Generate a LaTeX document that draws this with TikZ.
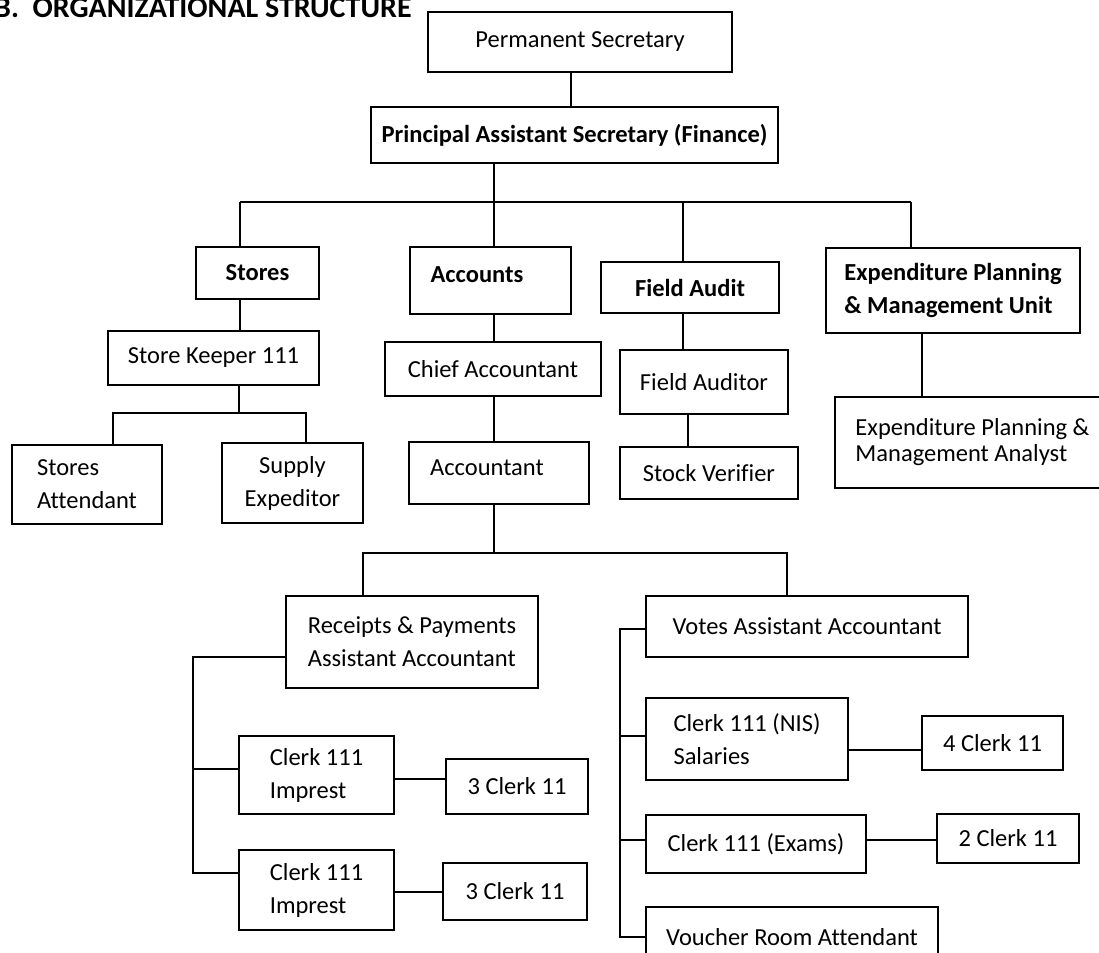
\documentclass[tikz,border=0pt]{standalone}
\usepackage{fontspec}
\setmainfont{Carlito}[Ligatures=NoCommon]
\begin{document}
\begin{tikzpicture}[x=1pt,y=-1pt,
  box/.style={draw, line width=2pt, inner sep=0pt, align=left,
              font=\fontsize{24.5}{33}\selectfont},
  bbox/.style={box, font=\fontsize{24.5}{33}\selectfont\bfseries},
  txt/.style={inner sep=0pt, font=\fontsize{24.5}{33}\selectfont},
  link/.style={line width=2pt}]
\useasboundingbox (0,0) rectangle (1099,952);

% heading
\node[anchor=base west, inner sep=0pt, font=\fontsize{30}{36}\selectfont\bfseries] (title) at (-6,18) {B.\ \ ORGANIZATIONAL STRUCTURE};

% top of the hierarchy
\node[box, minimum width=304, minimum height=60] (ps) at (580,42) {Permanent Secretary};
\node[bbox, minimum width=407, minimum height=56] (pas) at (574.5,135) {Principal Assistant Secretary (Finance)};

% divisions
\node[bbox, minimum width=123, minimum height=52] (stores) at (257.5,273) {Stores};
\node[box, minimum width=161, minimum height=67] (acc) at (490.5,280.5) {};
\node[txt, font=\fontsize{24.5}{33}\selectfont\bfseries] (acctxt) at (477,275) {Accounts};
\node[bbox, minimum width=178, minimum height=51] (fa) at (690,287.5) {Field Audit};
\node[bbox, minimum width=254, minimum height=85] (epu) at (953,290.5) {Expenditure Planning\\\& Management Unit};

% stores branch
\node[box, minimum width=211, minimum height=54] (sk) at (213.5,358) {Store Keeper 111};
\node[box, minimum width=150, minimum height=79] (sat) at (87,484.5) {Stores\\Attendant};
\node[box, align=center, minimum width=141, minimum height=80] (sup) at (292.5,483) {Supply\\Expeditor};

% accounts branch
\node[box, minimum width=216, minimum height=54] (ca) at (493,369) {Chief Accountant};
\node[box, minimum width=180, minimum height=62] (acct) at (499,473) {};
\node[txt] (accttxt) at (487,468) {Accountant};

% field audit branch
\node[box, minimum width=168, minimum height=64] (fau) at (704,382) {Field Auditor};
\node[box, minimum width=178, minimum height=52] (sv) at (709,473) {Stock Verifier};

% expenditure unit
\node[box, minimum width=275, minimum height=91, font=\fontsize{24.5}{26}\selectfont] (ana) at (972.5,442.5) {Expenditure Planning \&\\Management Analyst};

% receipts and payments section
\node[box, minimum width=252, minimum height=92] (rp) at (412,642) {Receipts \& Payments\\Assistant Accountant};
\node[box, minimum width=155, minimum height=78] (c1) at (316.5,775) {Clerk 111\\Imprest};
\node[box, minimum width=142, minimum height=55] (d1) at (517,786.5) {3 Clerk 11};
\node[box, minimum width=155, minimum height=80] (c2) at (316.5,890) {Clerk 111\\Imprest};
\node[box, minimum width=144, minimum height=57] (d2) at (515,891.5) {3 Clerk 11};

% votes section
\node[box, minimum width=322, minimum height=61] (votes) at (807,626.5) {Votes Assistant Accountant};
\node[box, minimum width=202, minimum height=82] (nis) at (747,739) {Clerk 111 (NIS)\\Salaries};
\node[box, minimum width=141, minimum height=54] (c4) at (992.5,743) {4 Clerk 11};
\node[box, minimum width=220, minimum height=58] (ex) at (756,844) {Clerk 111 (Exams)};
\node[box, minimum width=142, minimum height=49] (c2b) at (1008,838.5) {2 Clerk 11};
\node[box, minimum width=292, minimum height=60] (vou) at (792,937) {Voucher Room Attendant};

% junction points
\coordinate (bus) at (494,202);
\coordinate (jS) at (240,202);
\coordinate (jF) at (683,202);
\coordinate (jE) at (911,202);
\coordinate (jV) at (688,430);
\coordinate (jA) at (922,360);
\coordinate (kS) at (239,413);
\coordinate (kL) at (113,413);
\coordinate (kR) at (306,413);
\coordinate (aB) at (494,553);
\coordinate (aL) at (363,553);
\coordinate (aR) at (787,553);
\coordinate (bL) at (193,657);
\coordinate (bL1) at (193,769);
\coordinate (bL2) at (193,873);
\coordinate (bR) at (620,629);
\coordinate (bR1) at (620,736);
\coordinate (bR2) at (620,840);
\coordinate (bR3) at (620,937);

% connectors
\draw[link] (ps.south -| 571,0) -- (pas.north -| 571,0);
\draw[link] (pas.south -| bus) -- (bus);
\draw[link] (jS) -- (jE);
\draw[link] (jS) -- (jS |- stores.north);
\draw[link] (bus) -- (bus |- acc.north);
\draw[link] (jF) -- (jF |- fa.north);
\draw[link] (jE) -- (jE |- epu.north);

\draw[link] (jS |- stores.south) -- (jS |- sk.north);
\draw[link] (kS |- sk.south) -- (kS);
\draw[link] (kL |- sat.north) -- (kL) -- (kR) -- (kR |- sup.north);

\draw[link] (bus |- acc.south) -- (bus |- ca.north);
\draw[link] (bus |- ca.south) -- (bus |- acct.north);
\draw[link] (bus |- acct.south) -- (aB);
\draw[link] (aL |- rp.north) -- (aL) -- (aR) -- (aR |- votes.north);

\draw[link] (jF |- fa.south) -- (jF |- fau.north);
\draw[link] (jV |- fau.south) -- (jV |- sv.north);
\draw[link] (jA |- epu.south) -- (jA |- ana.north);

\draw[link] (bL -| rp.west) -- (bL) -- (bL2) -- (bL2 -| c2.west);
\draw[link] (bL1) -- (bL1 -| c1.west);
\draw[link] (c1.east |- 0,779) -- (d1.west |- 0,779);
\draw[link] (d2.west -| c2.east) -- (d2.west);

\draw[link] (bR -| votes.west) -- (bR) -- (bR3) -- (bR3 -| vou.west);
\draw[link] (bR1) -- (bR1 -| nis.west);
\draw[link] (bR2) -- (bR2 -| ex.west);
\draw[link] (nis.east |- 0,750) -- (c4.west |- 0,750);
\draw[link] (ex.east |- 0,840) -- (c2b.west |- 0,840);
\end{tikzpicture}
\end{document}
